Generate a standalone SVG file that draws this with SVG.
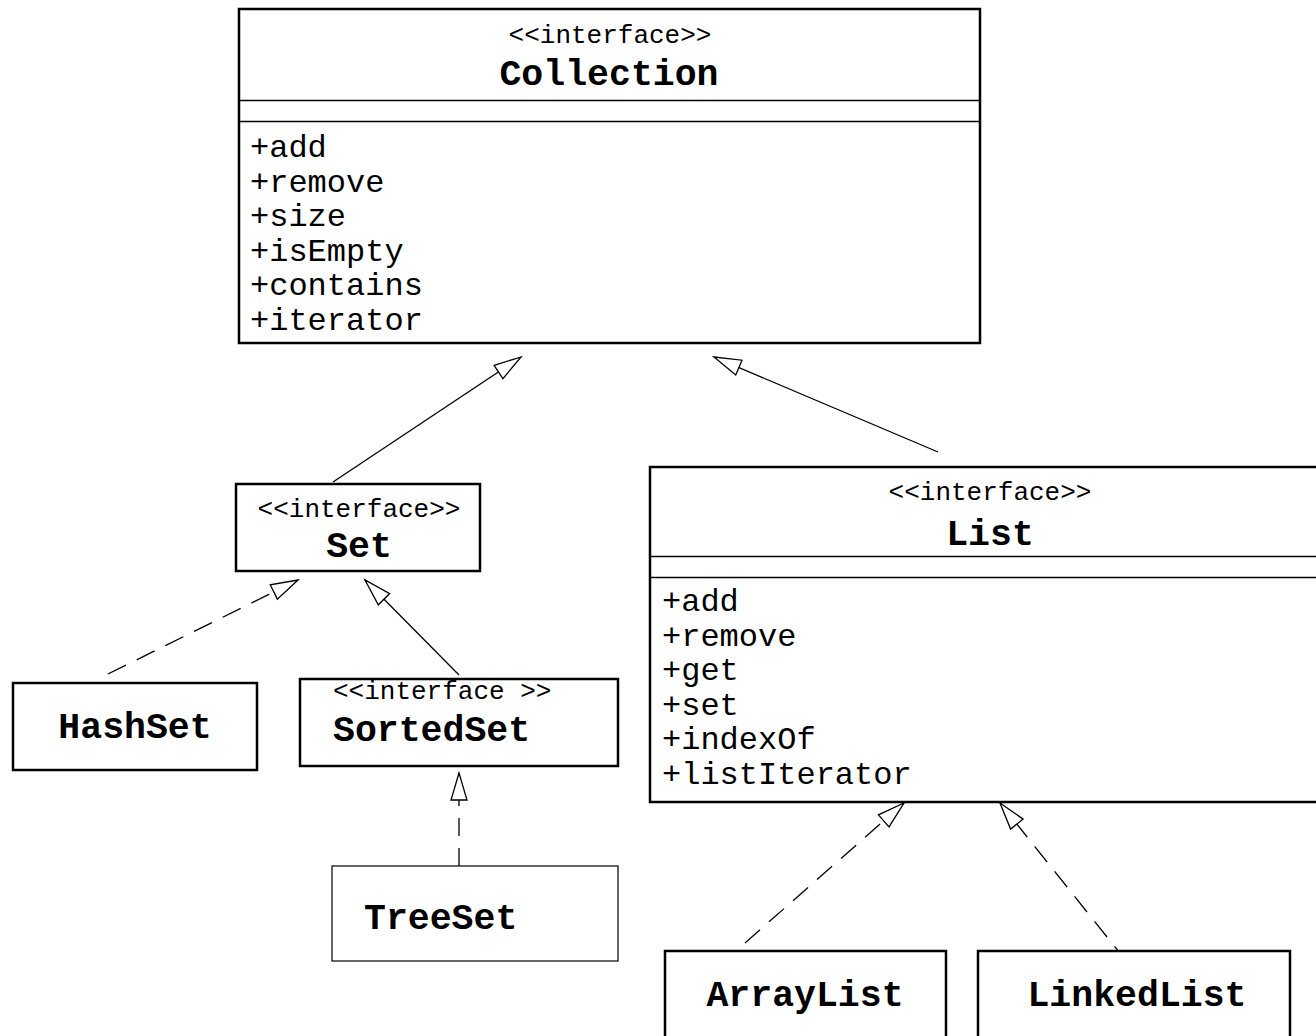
<svg xmlns="http://www.w3.org/2000/svg" width="1316" height="1036" viewBox="0 0 1316 1036">
<style>
.box{fill:#fff;stroke:#000;stroke-width:2.5}
.thin{fill:#fff;stroke:#000;stroke-width:1.2}
.sep{stroke:#000;stroke-width:1.5}
.st{font-family:"Liberation Mono","Courier New",monospace;font-size:26px;fill:#000}
.nm{font-family:"Liberation Mono","Courier New",monospace;font-size:36.5px;font-weight:bold;fill:#000}
.op{font-family:"Liberation Mono","Courier New",monospace;font-size:32px;fill:#000}
.c{text-anchor:middle}
.ln{fill:none;stroke:#000;stroke-width:1.3}
.dash{stroke-dasharray:20 12}
</style>
<defs>
<marker id="tri" markerUnits="userSpaceOnUse" markerWidth="30" markerHeight="20" refX="27" refY="8" orient="auto" overflow="visible">
<path d="M27,8 L0,0 L0,16 Z" fill="#fff" stroke="#000" stroke-width="1.3"/>
</marker>
</defs>
<rect width="1316" height="1036" fill="#fff"/>
<g id="connectors">
<line class="ln" x1="333" y1="482" x2="521" y2="357" marker-end="url(#tri)"/>
<line class="ln" x1="938" y1="452" x2="714" y2="357" marker-end="url(#tri)"/>
<line class="ln dash" x1="108" y1="674" x2="298" y2="580" marker-end="url(#tri)"/>
<line class="ln" x1="459" y1="675" x2="365" y2="580" marker-end="url(#tri)"/>
<line class="ln dash" x1="459" y1="866" x2="459" y2="773" marker-end="url(#tri)" style="stroke-dasharray:18 12"/>
<line class="ln dash" x1="745" y1="943" x2="904" y2="803" marker-end="url(#tri)"/>
<line class="ln dash" x1="1127" y1="962" x2="1000" y2="803" marker-end="url(#tri)"/>
</g>
<g id="collection">
<rect class="box" x="239" y="9" width="741" height="334"/>
<line class="sep" x1="239" y1="100.5" x2="981" y2="100.5"/>
<line class="sep" x1="239" y1="121.5" x2="981" y2="121.5"/>
<text class="st c" x="610" y="43">&lt;&lt;interface&gt;&gt;</text>
<text class="nm c" x="609" y="85">Collection</text>
<text class="op" x="250" y="157">+add</text>
<text class="op" x="250" y="191.5">+remove</text>
<text class="op" x="250" y="226">+size</text>
<text class="op" x="250" y="260.5">+isEmpty</text>
<text class="op" x="250" y="295">+contains</text>
<text class="op" x="250" y="329.5">+iterator</text>
</g>
<g id="set">
<rect class="box" x="236" y="484" width="244" height="87"/>
<text class="st c" x="359" y="517">&lt;&lt;interface&gt;&gt;</text>
<text class="nm c" x="359" y="557">Set</text>
</g>
<g id="list">
<rect class="box" x="650" y="467" width="690" height="335"/>
<line class="sep" x1="650" y1="556.5" x2="1316" y2="556.5"/>
<line class="sep" x1="650" y1="577.5" x2="1316" y2="577.5"/>
<text class="st c" x="990" y="500">&lt;&lt;interface&gt;&gt;</text>
<text class="nm c" x="990" y="545">List</text>
<text class="op" x="662" y="611">+add</text>
<text class="op" x="662" y="645.5">+remove</text>
<text class="op" x="662" y="680">+get</text>
<text class="op" x="662" y="714.5">+set</text>
<text class="op" x="662" y="749">+indexOf</text>
<text class="op" x="662" y="783.5">+listIterator</text>
</g>
<g id="hashset">
<rect class="box" x="13" y="683" width="244" height="87"/>
<text class="nm c" x="135" y="738">HashSet</text>
</g>
<g id="sortedset">
<rect class="box" x="300" y="679" width="318" height="87"/>
<text class="st" x="333" y="699">&lt;&lt;interface &gt;&gt;</text>
<text class="nm" x="333" y="741">SortedSet</text>
</g>
<g id="treeset">
<rect class="thin" x="332" y="866" width="286" height="95"/>
<text class="nm" x="364" y="929">TreeSet</text>
</g>
<g id="arraylist">
<rect class="box" x="665" y="951" width="281" height="100"/>
<text class="nm c" x="805" y="1006">ArrayList</text>
</g>
<g id="linkedlist">
<rect class="box" x="978" y="951" width="312" height="100"/>
<text class="nm c" x="1137" y="1006">LinkedList</text>
</g>
</svg>
